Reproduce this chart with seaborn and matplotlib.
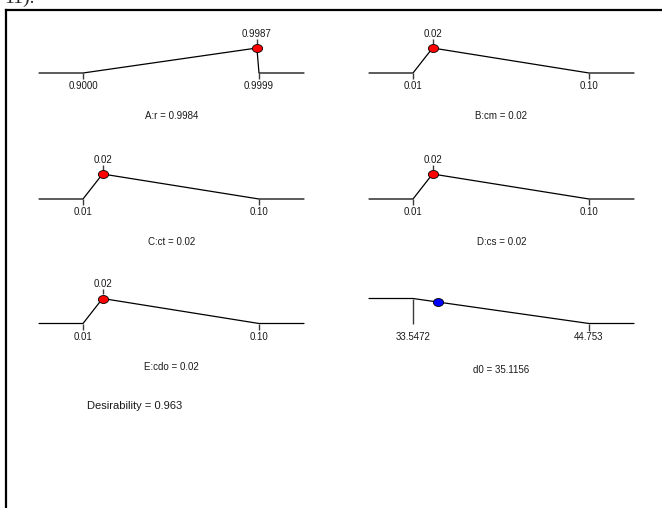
import numpy as np
import pandas as pd
import matplotlib
matplotlib.use("Agg")
import matplotlib.pyplot as plt
from matplotlib.lines import Line2D
from matplotlib.path import Path
from matplotlib import font_manager
import seaborn as sns

# ---- factor ramps -------------------------------------------------------
factor_names = ["A:r", "B:cm", "C:ct", "D:cs", "E:cdo"]
factor_low = [0.9000, 0.01, 0.01, 0.01, 0.01]
factor_high = [0.9999, 0.10, 0.10, 0.10, 0.10]
factor_peak = [0.9987, 0.02, 0.02, 0.02, 0.02]
factor_setting = ["0.9984", "0.02", "0.02", "0.02", "0.02"]
factor_low_label = ["0.9000", "0.01", "0.01", "0.01", "0.01"]
factor_high_label = ["0.9999", "0.10", "0.10", "0.10", "0.10"]
factor_peak_label = ["0.9987", "0.02", "0.02", "0.02", "0.02"]

# ---- response ramp ------------------------------------------------------
response_name = "d0"
response_low = 33.5472
response_high = 44.753
response_value = 35.1156
response_desirability = 0.86
response_low_label = "33.5472"
response_high_label = "44.753"
response_value_label = "35.1156"

overall_desirability = "0.963"

# ---- figure -------------------------------------------------------------
W, H = 662, 508
sns.set_theme(style="white")
plt.rcParams["font.family"] = ["Liberation Sans", "DejaVu Sans"]

fig = plt.figure(figsize=(W / 100, H / 100), dpi=100)
fig.patch.set_facecolor("white")

installed = {f.name for f in font_manager.fontManager.ttflist}
narrow = "Liberation Sans Narrow" in installed

LBL = 7          # small label size (pt)
U = 1 / 25       # one pixel in ramp y-units (ramp height is 25 px)
LINE = "black"
TICK = "#3a3a3a"
TXT = "#1a1a1a"

# elliptical marker, a bit wider than tall
circ = Path.unit_circle()
ellipse = Path(circ.vertices * np.array([1.0, 0.78]), circ.codes)

col_offset = [0, 330]
baselines = [73, 199, 323.5]


def ramp_axes(col, baseline, lo, hi):
    left = (col_offset[col] + 39) / W
    ax = fig.add_axes([left, 1 - baseline / H, 265 / W, 25 / H])
    span = hi - lo
    ax.set_xlim(lo - 0.25 * span, hi + 0.2557 * span)
    ax.set_ylim(0, 1)
    ax.axis("off")
    return ax


def unclip(ax):
    for a in list(ax.lines) + list(ax.collections) + list(ax.texts):
        a.set_clip_on(False)


slots = [(0, 0), (1, 0), (0, 1), (1, 1), (0, 2)]
for i, (col, row) in enumerate(slots):
    lo, hi, pk = factor_low[i], factor_high[i], factor_peak[i]
    ax = ramp_axes(col, baselines[row], lo, hi)
    x0, x1 = ax.get_xlim()
    ramp = pd.DataFrame({"x": [x0, lo, pk, hi, x1], "y": [0, 0, 1, 0, 0]})
    sns.lineplot(data=ramp, x="x", y="y", sort=False, estimator=None,
                 color=LINE, lw=0.9, ax=ax)
    ax.vlines([lo, hi], -6 * U, 0, color=TICK, lw=1.0)
    ax.vlines([pk], 1 + 4 * U, 1 + 9 * U, color=TICK, lw=1.0)
    sns.scatterplot(x=[pk], y=[1], marker=ellipse, s=54, color="#ff0000",
                    edgecolor="black", linewidth=0.6, zorder=4, ax=ax)
    ax.text(pk, 1 + 14 * U, factor_peak_label[i], ha="center", va="center",
            fontsize=LBL, color=TXT)
    ax.text(lo, -13 * U, factor_low_label[i], ha="center", va="center",
            fontsize=LBL, color=TXT)
    ax.text(hi, -13 * U, factor_high_label[i], ha="center", va="center",
            fontsize=LBL, color=TXT)
    ax.text(0.5, -43 * U, f"{factor_names[i]} = {factor_setting[i]}",
            transform=ax.transAxes, ha="center", va="center", fontsize=LBL,
            color=TXT)
    unclip(ax)

# response: minimise d0
ax = ramp_axes(1, baselines[2], response_low, response_high)
x0, x1 = ax.get_xlim()
ramp = pd.DataFrame({"x": [x0, response_low, response_high, x1],
                     "y": [1, 1, 0, 0]})
sns.lineplot(data=ramp, x="x", y="y", sort=False, estimator=None,
             color=LINE, lw=0.9, ax=ax)
ax.vlines([response_low], 0, 1, color=TICK, lw=1.0)
ax.vlines([response_high], -7 * U, 0, color=TICK, lw=1.0)
sns.scatterplot(x=[response_value], y=[response_desirability], marker=ellipse,
                s=54, color="#0000ff", edgecolor="black", linewidth=0.6,
                zorder=4, ax=ax)
ax.text(response_low, -14 * U, response_low_label, ha="center", va="center",
        fontsize=LBL, color=TXT)
ax.text(response_high, -14 * U, response_high_label, ha="center", va="center",
        fontsize=LBL, color=TXT)
ax.text(0.5, -46 * U, f"{response_name} = {response_value_label}",
        transform=ax.transAxes, ha="center", va="center", fontsize=LBL,
        color=TXT)
unclip(ax)

# overall desirability
if narrow:
    fig.text(135 / W, 1 - 406 / H, f"Desirability = {overall_desirability}",
             ha="center", va="center", fontsize=9, color=TXT,
             family=["Liberation Sans Narrow", "DejaVu Sans"])
else:
    fig.text(135 / W, 1 - 406 / H, f"Desirability = {overall_desirability}",
             ha="center", va="center", fontsize=8, color=TXT)

# surrounding frame (left and top edges)
fig.add_artist(Line2D([6 / W, 6 / W], [0, 1 - 10 / H], transform=fig.transFigure,
                      color="black", lw=1.6, solid_capstyle="projecting"))
fig.add_artist(Line2D([6 / W, 1], [1 - 10 / H, 1 - 10 / H],
                      transform=fig.transFigure, color="black", lw=1.6,
                      solid_capstyle="projecting"))

# caption number above the frame
fig.text(4 / W, 1 - 3 / H, "11).", ha="left", va="baseline", fontsize=14,
         family=["Liberation Serif", "DejaVu Serif"])

fig.savefig("out.png", dpi=100, facecolor="white")
